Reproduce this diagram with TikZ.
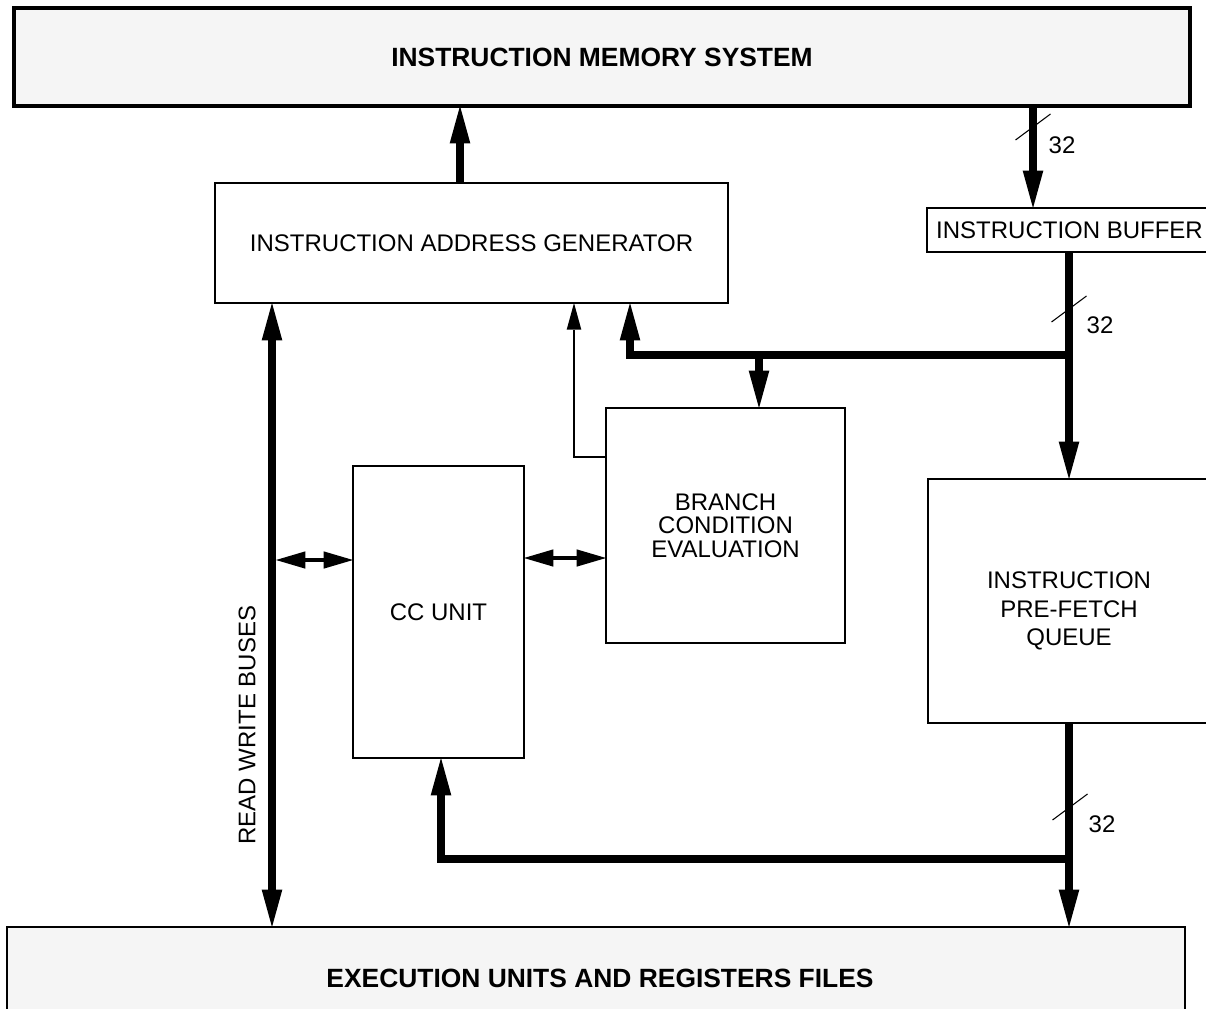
\documentclass[tikz,border=0pt]{standalone}
\usepackage{fontspec}
\setmainfont{Liberation Sans}
\usetikzlibrary{arrows.meta,calc}

\begin{document}
\begin{tikzpicture}[x=0.75pt,y=-0.75pt,
  box/.style={draw, line width=2pt, fill=white, inner sep=0pt, outer sep=0pt,
    font=\fontsize{18pt}{21pt}\selectfont},
  bigbox/.style={draw, fill=boxgray, inner sep=0pt, outer sep=0pt,
    font=\fontsize{19.8pt}{24pt}\selectfont\bfseries},
  lbl/.style={inner sep=0pt, font=\fontsize{18pt}{21pt}\selectfont},
  bighead/.tip={Triangle[length=28pt,width=15.5pt,line width=0pt]},
  smallhead/.tip={Triangle[length=20pt,width=11pt,line width=0pt]},
  midhead/.tip={Triangle[length=22pt,width=13pt,line width=0pt]},
  bus/.style={line width=5.6pt, line join=miter, -bighead},
  ctrl/.style={line width=1.5pt, line join=miter, -smallhead},
  twoway/.style={line width=3pt, midhead-midhead},
  tick/.style={line width=0.8pt}
]
\definecolor{boxgray}{HTML}{F5F5F5}
\useasboundingbox (0,0) rectangle (1206,1008);
\clip (0,0) rectangle (1206,1008);

% memory and execution blocks
\node[bigbox, line width=2.6pt, minimum width=882pt, minimum height=73.5pt]
  (ims) at (602,57) {INSTRUCTION MEMORY SYSTEM};
\node[bigbox, line width=1.5pt, minimum width=883.5pt, minimum height=76.5pt]
  (exu) at (596,978) {};
\node[lbl, font=\fontsize{19.8pt}{24pt}\selectfont\bfseries] (exutext) at (600,978)
  {EXECUTION UNITS AND REGISTERS FILES};

% functional blocks
\node[box, minimum width=384.75pt, minimum height=90pt] (iag) at (471.5,243)
  {INSTRUCTION ADDRESS GENERATOR};
\node[box, line width=2.2pt, minimum width=213.75pt, minimum height=33pt] (ib) at (1069.5,230)
  {INSTRUCTION BUFFER};
\node[box, minimum width=179.25pt, minimum height=176.25pt, align=center,
  font=\fontsize{18pt}{17.8pt}\selectfont] (bce) at (725.5,525.5)
  {BRANCH\\CONDITION\\EVALUATION};
\node[box, minimum width=128.25pt, minimum height=219pt] (cc) at (438.5,612)
  {CC UNIT};
\node[box, minimum width=211.5pt, minimum height=183pt] (pfq) at (1069,601) {};
\node[lbl, align=center, font=\fontsize{18pt}{21.4pt}\selectfont] (pfqtext) at (1069,611)
  {INSTRUCTION\\PRE-FETCH\\QUEUE};

\node[lbl, rotate=90] (rwb) at (247,725) {READ WRITE BUSES};

% bus columns and rows
\coordinate (xa) at (460,0);
\coordinate (xb) at (1033,0);
\coordinate (xc) at (1069,0);
\coordinate (xd) at (630,0);
\coordinate (xe) at (759,0);
\coordinate (xf) at (574,0);
\coordinate (xg) at (272,0);
\coordinate (xh) at (441,0);
\coordinate (j1) at (1069,355);
\coordinate (j2) at (1069,859);
\coordinate (yt) at (0,457);
\coordinate (yl) at (276,560);
\coordinate (yr) at (0,558);

% connectors
\draw[bus] (iag.north -| xa) -- (ims.south -| xa);
\draw[bus] (ims.south -| xb) -- (ib.north -| xb);
\draw[bus] (ib.south -| xc) -- (pfq.north -| xc);
\draw[bus] (j1) -| (iag.south -| xd);
\draw[bus] (j1 -| xe) -- (bce.north -| xe);
\draw[ctrl] (bce.west |- yt) -| (iag.south -| xf);
\draw[bus, bighead-bighead] (iag.south -| xg) -- (exu.north -| xg);
\draw[twoway] (yl) -- (cc.west |- yl);
\draw[twoway] (cc.east |- yr) -- (bce.west |- yr);
\draw[bus] (pfq.south -| xc) -- (exu.north -| xc);
\draw[bus] (j2) -| (cc.south -| xh);

% bus width marks
\draw[tick] (1015.5,140) -- (1050.5,114);
\node[lbl] (w1) at (1062,145) {32};
\draw[tick] (1051.5,322) -- (1086.5,296);
\node[lbl] (w2) at (1100,325) {32};
\draw[tick] (1052.5,820) -- (1087.5,794);
\node[lbl] (w3) at (1102,824) {32};
\end{tikzpicture}
\end{document}
